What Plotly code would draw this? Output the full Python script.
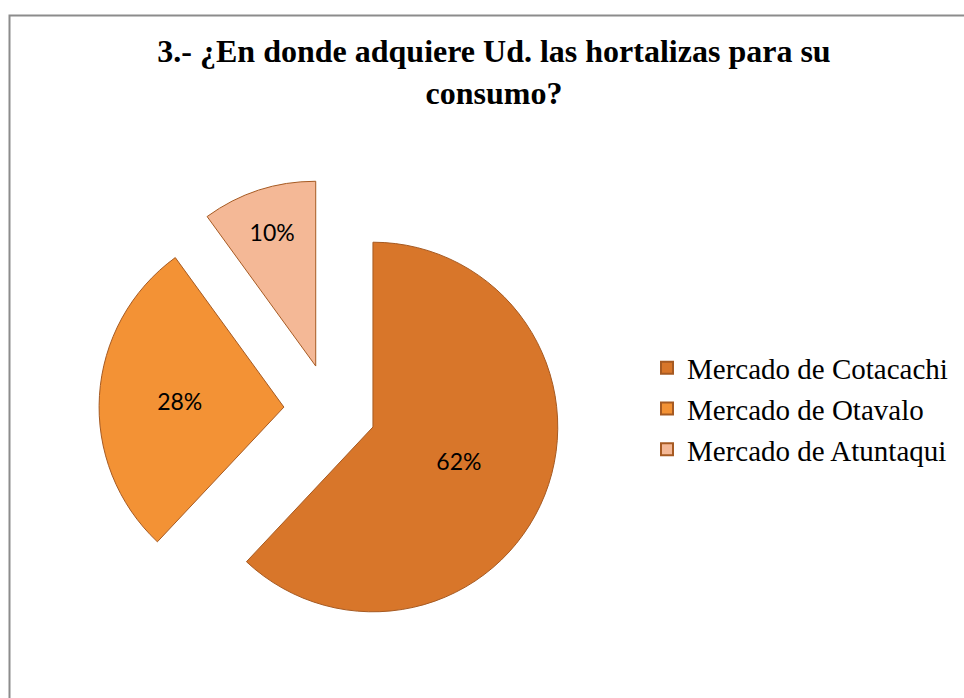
import plotly.graph_objects as go

labels = ["Mercado de Cotacachi", "Mercado de Otavalo", "Mercado de Atuntaqui"]
values = [62, 28, 10]
colors = ["#D8762A", "#F39235", "#F4B896"]
title_text = "3.- ¿En donde adquiere Ud. las hortalizas para su<br>consumo?"

W, H = 964, 698

fig = go.Figure(go.Pie(
    labels=labels,
    values=values,
    sort=False,
    direction="clockwise",
    rotation=0,
    pull=[0.25, 0.25, 0.25],
    marker=dict(colors=colors, line=dict(color="#A65A22", width=1)),
    textinfo="percent",
    texttemplate="%{percent:.0%}",
    textposition="inside",
    insidetextorientation="horizontal",
    textfont=dict(family="Lato, Open Sans, sans-serif", size=23, color="#000000"),
    domain=dict(x=[99 / W, 561 / W], y=[1 - 641 / H, 1 - 179 / H]),
    hoverinfo="label+percent",
))

fig.update_layout(
    width=W, height=H,
    margin=dict(l=0, r=0, t=0, b=0),
    paper_bgcolor="white",
    plot_bgcolor="white",
    title=dict(
        text=title_text,
        x=494 / W, xanchor="center", xref="paper",
        y=1 - 62 / H, yanchor="top", yref="container",
        font=dict(family="Liberation Serif, Times New Roman, serif", size=32, color="#000000", weight="bold"),
    ),
    legend=dict(
        x=647 / W, xanchor="left",
        y=1 - 409 / H, yanchor="middle",
        font=dict(family="Liberation Serif, Times New Roman, serif", size=29, color="#000000"),
        bgcolor="rgba(0,0,0,0)",
        itemsizing="constant",
    ),
    shapes=[dict(
        type="rect", xref="paper", yref="paper",
        x0=9.5 / W, x1=1.05, y0=-0.05, y1=1 - 15.5 / H,
        line=dict(color="#8C8C8C", width=2),
        fillcolor="rgba(0,0,0,0)",
        layer="below",
    )],
)

fig.write_html("out.html")
